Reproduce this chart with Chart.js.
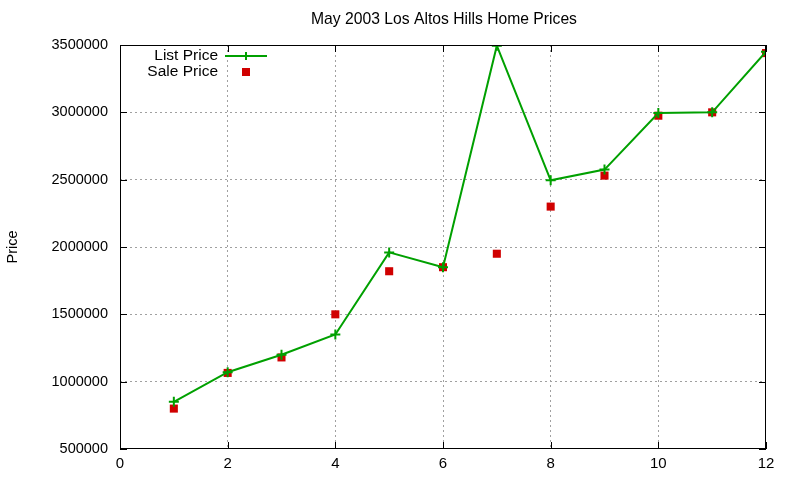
<!DOCTYPE html>
<html>
<head>
<meta charset="utf-8">
<script src="https://cdn.jsdelivr.net/npm/chart.js@4/dist/chart.umd.min.js"></script>
<style>
  html, body { margin: 0; padding: 0; background: #fff; }
  #wrap { width: 800px; height: 480px; }
</style>
</head>
<body>
<div id="wrap"><canvas id="chart" width="800" height="480"></canvas></div>
<script>
const months = [1, 2, 3, 4, 5, 6, 7, 8, 9, 10, 11, 12];
const listPrice = [850000, 1070000, 1200000, 1350000, 1960000, 1850000, 3495000, 2495000, 2575000, 2995000, 3000000, 3450000];
const salePrice = [800000, 1065000, 1180000, 1500000, 1820000, 1850000, 1950000, 2300000, 2530000, 2975000, 3000000, 3440000];
const chartTitle = 'May 2003 Los Altos Hills Home Prices';

const FONT = 'Liberation Sans, Arial, sans-serif';
const GREEN = '#00a000';
const RED = '#d00000';

// gnuplot-ish frame: title over the plot, full border, inward ticks, in-plot key
const framePlugin = {
  id: 'frame',
  afterDatasetsDraw(chart) {
    const { ctx, chartArea: a, scales } = chart;
    ctx.save();
    ctx.font = '15.7px ' + FONT;
    ctx.fillStyle = '#000';
    ctx.textAlign = 'center';
    ctx.textBaseline = 'middle';
    ctx.fillText(chartTitle, (a.left + a.right) / 2 + 1, a.top - 25);

    ctx.strokeStyle = '#000';
    ctx.lineWidth = 1;
    ctx.strokeRect(a.left + 0.5, a.top + 0.5, a.right - a.left - 1, a.bottom - a.top - 1);
    ctx.beginPath();
    scales.x.ticks.forEach(t => {
      const px = Math.round(scales.x.getPixelForValue(t.value)) + 0.5;
      ctx.moveTo(px, a.bottom); ctx.lineTo(px, a.bottom - 7);
      ctx.moveTo(px, a.top); ctx.lineTo(px, a.top + 7);
    });
    scales.y.ticks.forEach(t => {
      const py = Math.round(scales.y.getPixelForValue(t.value)) + 0.5;
      ctx.moveTo(a.left, py); ctx.lineTo(a.left + 7, py);
      ctx.moveTo(a.right, py); ctx.lineTo(a.right - 7, py);
    });
    ctx.stroke();

    // key
    ctx.font = '15.5px ' + FONT;
    ctx.textAlign = 'right';
    const kx = a.left + 98, ky = a.top + 11;
    ctx.fillText('List Price', kx, ky);
    ctx.fillText('Sale Price', kx, ky + 16);
    ctx.strokeStyle = GREEN;
    ctx.lineWidth = 2;
    ctx.beginPath();
    ctx.moveTo(kx + 7, ky); ctx.lineTo(kx + 49, ky);
    ctx.moveTo(kx + 28, ky - 4); ctx.lineTo(kx + 28, ky + 4);
    ctx.stroke();
    ctx.fillStyle = RED;
    ctx.fillRect(kx + 24, ky + 12, 8, 8);
    ctx.restore();
  }
};

new Chart(document.getElementById('chart'), {
  type: 'line',
  data: {
    datasets: [
      {
        label: 'List Price',
        data: months.map((m, i) => ({ x: m, y: listPrice[i] })),
        borderColor: GREEN,
        backgroundColor: GREEN,
        borderWidth: 2,
        pointStyle: 'cross',
        pointRadius: 5,
        pointBorderWidth: 2,
        pointBorderColor: GREEN,
        tension: 0,
        fill: false
      },
      {
        label: 'Sale Price',
        data: months.map((m, i) => ({ x: m, y: salePrice[i] })),
        showLine: false,
        pointStyle: 'rect',
        pointRadius: 5.7,
        pointBorderWidth: 0,
        backgroundColor: RED,
        borderColor: RED
      }
    ]
  },
  options: {
    responsive: false,
    animation: false,
    layout: { padding: { left: 0, right: 34, top: 45, bottom: 0 } },
    plugins: {
      legend: { display: false },
      tooltip: { enabled: false },
      title: { display: false }
    },
    scales: {
      x: {
        type: 'linear',
        min: 0,
        max: 12,
        afterFit(scale) { scale.height = 31; },
        ticks: {
          stepSize: 2,
          color: '#000',
          padding: 6,
          font: { family: FONT, size: 15 },
          maxRotation: 0
        },
        grid: {
          color: ctx => (ctx.tick && (ctx.tick.value === 0 || ctx.tick.value === 12)) ? 'rgba(0,0,0,0)' : '#a0a0a0',
          drawTicks: false
        },
        border: { display: false, dash: [2, 3] }
      },
      y: {
        min: 500000,
        max: 3500000,
        afterFit(scale) { scale.width = 120; },
        ticks: {
          stepSize: 500000,
          color: '#000',
          padding: 12,
          font: { family: FONT, size: 14.5 },
          callback: v => String(v)
        },
        title: {
          display: true,
          text: 'Price',
          color: '#000',
          font: { family: FONT, size: 14.5 },
          padding: { top: 4, bottom: 4 }
        },
        grid: {
          color: ctx => (ctx.tick && (ctx.tick.value === 500000 || ctx.tick.value === 3500000)) ? 'rgba(0,0,0,0)' : '#a0a0a0',
          drawTicks: false
        },
        border: { display: false, dash: [2, 3] }
      }
    }
  },
  plugins: [framePlugin]
});
</script>
</body>
</html>
